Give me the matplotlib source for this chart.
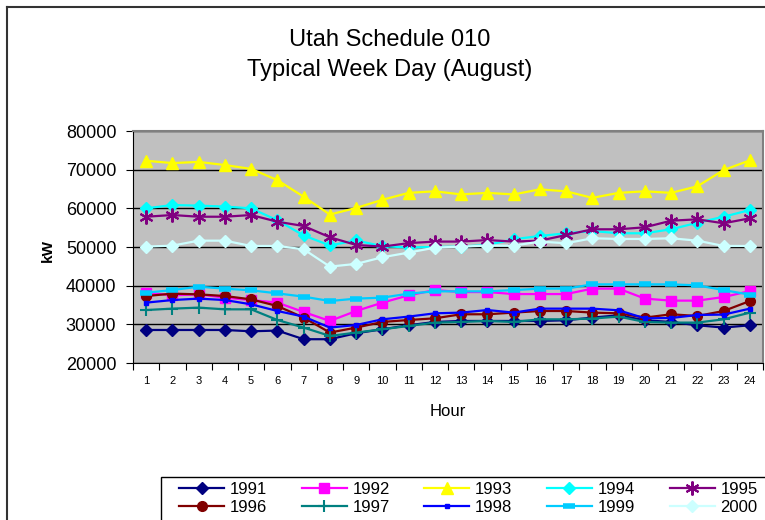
import matplotlib
matplotlib.use("Agg")
import matplotlib.pyplot as plt
import numpy as np
from matplotlib.lines import Line2D
from matplotlib.patches import Rectangle

plt.rcParams["font.family"] = ["Liberation Sans", "DejaVu Sans"]

hours = list(range(1, 25))

kw_1991 = [28540, 28540, 28540, 28540, 28200, 28390, 26150, 26150, 27700, 28720, 29760, 30610,
           30870, 30870, 30870, 30870, 31050, 31740, 32340, 31050, 30610, 29760, 29160, 29760]
kw_1992 = [38190, 37500, 37750, 36900, 36280, 35610, 33190, 30870, 33450, 35610, 37500, 38860,
           38350, 38350, 37830, 37830, 37830, 39230, 39230, 36650, 36130, 36130, 37060, 38600]
kw_1993 = [72300, 71700, 72000, 71200, 70200, 67300, 63000, 58400, 60100, 62200, 64000, 64400,
           63600, 64000, 63600, 64900, 64400, 62700, 64000, 64400, 64000, 65700, 69900, 72400]
kw_1994 = [60000, 60850, 60700, 60450, 60000, 56900, 53000, 50400, 51700, 50200, 49900, 50000,
           50100, 50530, 52000, 52850, 53550, 54140, 53550, 53550, 54580, 56280, 57830, 59560]
kw_1995 = [57830, 58270, 57830, 57830, 58270, 56540, 55430, 52520, 50530, 50100, 51000, 51400,
           51400, 51800, 51400, 51640, 53100, 54580, 54580, 55100, 56800, 57160, 56130, 57420]
kw_1996 = [37320, 37940, 37750, 37320, 36460, 34740, 31740, 27870, 29160, 30610, 31120, 31560,
           32600, 32600, 33030, 33450, 33450, 33030, 32850, 31740, 32600, 32160, 33450, 36030]
kw_1997 = [33700, 34060, 34320, 33880, 33880, 31120, 29160, 27000, 27870, 28720, 29580, 30450,
           30610, 30870, 30610, 31300, 31300, 31490, 32000, 30610, 30450, 30450, 31300, 33030]
kw_1998 = [35610, 36280, 36650, 36280, 35180, 33450, 32000, 29160, 29830, 31300, 32000, 32850,
           33030, 33700, 33030, 34060, 34060, 34060, 33630, 31560, 31640, 32420, 32520, 34060]
kw_1999 = [38190, 38860, 39740, 39230, 38790, 38010, 37160, 36030, 36650, 36900, 37940, 38530,
           38530, 38530, 38860, 39230, 39230, 40340, 40340, 40340, 40340, 40080, 38860, 37680]
kw_2000 = [50100, 50350, 51640, 51640, 50270, 50270, 49420, 44930, 45630, 47350, 48550, 49840,
           50100, 50350, 50350, 51400, 50970, 52260, 52080, 52080, 52260, 51640, 50270, 50270]

years = ["1991", "1992", "1993", "1994", "1995", "1996", "1997", "1998", "1999", "2000"]
series = [kw_1991, kw_1992, kw_1993, kw_1994, kw_1995, kw_1996, kw_1997, kw_1998, kw_1999, kw_2000]

styles = [
    dict(color="#000080", marker="D", ms=6),
    dict(color="#FF00FF", marker="s", ms=7),
    dict(color="#FFFF00", marker="^", ms=8),
    dict(color="#00FFFF", marker="D", ms=6),
    dict(color="#800080", marker=(6, 2, 0), ms=10, mew=1.5),
    dict(color="#800000", marker="o", ms=7),
    dict(color="#008080", marker="+", ms=9, mew=1.5),
    dict(color="#0000FF", marker="s", ms=3.5),
    dict(color="#00CCFF", marker="_", ms=8, mew=4),
    dict(color="#CCFFFF", marker="D", ms=6),
]

fig = plt.figure(figsize=(7.65, 5.2), dpi=100)
ax = fig.add_axes([133 / 765, 1 - 363 / 520, 630 / 765, 232 / 520])
ax.set_facecolor("#C0C0C0")

handles = []
for name, vals, st in zip(years, series, styles):
    h, = ax.plot(hours, vals, lw=1.6, label=name, **st)
    handles.append(h)

ax.set_xlim(0.5, 24.5)
ax.set_ylim(20000, 80000)
ax.set_yticks(np.arange(20000, 80001, 10000))
ax.yaxis.grid(True, color="black", lw=1)
ax.set_axisbelow(True)
ax.tick_params(axis="y", labelsize=13, length=5, direction="out", pad=7)

ax.set_xticks(np.arange(0.5, 25, 1))
ax.set_xticklabels([])
ax.set_xticks(hours, minor=True)
ax.set_xticklabels([str(h) for h in hours], minor=True)
ax.tick_params(axis="x", which="major", length=5, direction="out")
ax.tick_params(axis="x", which="minor", length=0, labelsize=8, pad=9)

for side in ["top", "right"]:
    ax.spines[side].set_color("#808080")
    ax.spines[side].set_linewidth(1.5)
for side in ["left", "bottom"]:
    ax.spines[side].set_color("black")

ax.set_xlabel("Hour", fontsize=12, va="center")
ax.xaxis.set_label_coords((447.5 - 133) / 630, (363 - 411) / 232)
ax.set_ylabel("kW", fontsize=11, fontweight="bold", va="center")
ax.yaxis.set_label_coords((48 - 133) / 630, (363 - 251) / 232)

fig.text(390 / 765, 1 - 40 / 520, "Utah Schedule 010", ha="center", va="center", fontsize=17)
fig.text(390 / 765, 1 - 70 / 520, "Typical Week Day (August)", ha="center", va="center", fontsize=17)

# chart area border
fig.add_artist(Line2D([7 / 765, 7 / 765], [0, 1 - 7 / 520], color="#333333", lw=1.5))
fig.add_artist(Line2D([7 / 765, 1], [1 - 7 / 520, 1 - 7 / 520], color="#333333", lw=1.5))

# legend box runs off the bottom/right edge in the original
fig.add_artist(Rectangle((161 / 765, -0.05), 0.8, 0.05 + (520 - 477) / 520,
                         transform=fig.transFigure, fill=False, edgecolor="black", lw=1))

# legend filled row by row like the original
order = [0, 5, 1, 6, 2, 7, 3, 8, 4, 9]
leg = fig.legend([handles[i] for i in order], [years[i] for i in order],
                 loc="upper left", bbox_to_anchor=(179 / 765, 1 - 482 / 520),
                 ncol=5, fontsize=12, frameon=False, borderaxespad=0, borderpad=0,
                 handlelength=2.7, handletextpad=0.35, columnspacing=2.07,
                 labelspacing=0.18)

fig.savefig("out.png", dpi=100)
